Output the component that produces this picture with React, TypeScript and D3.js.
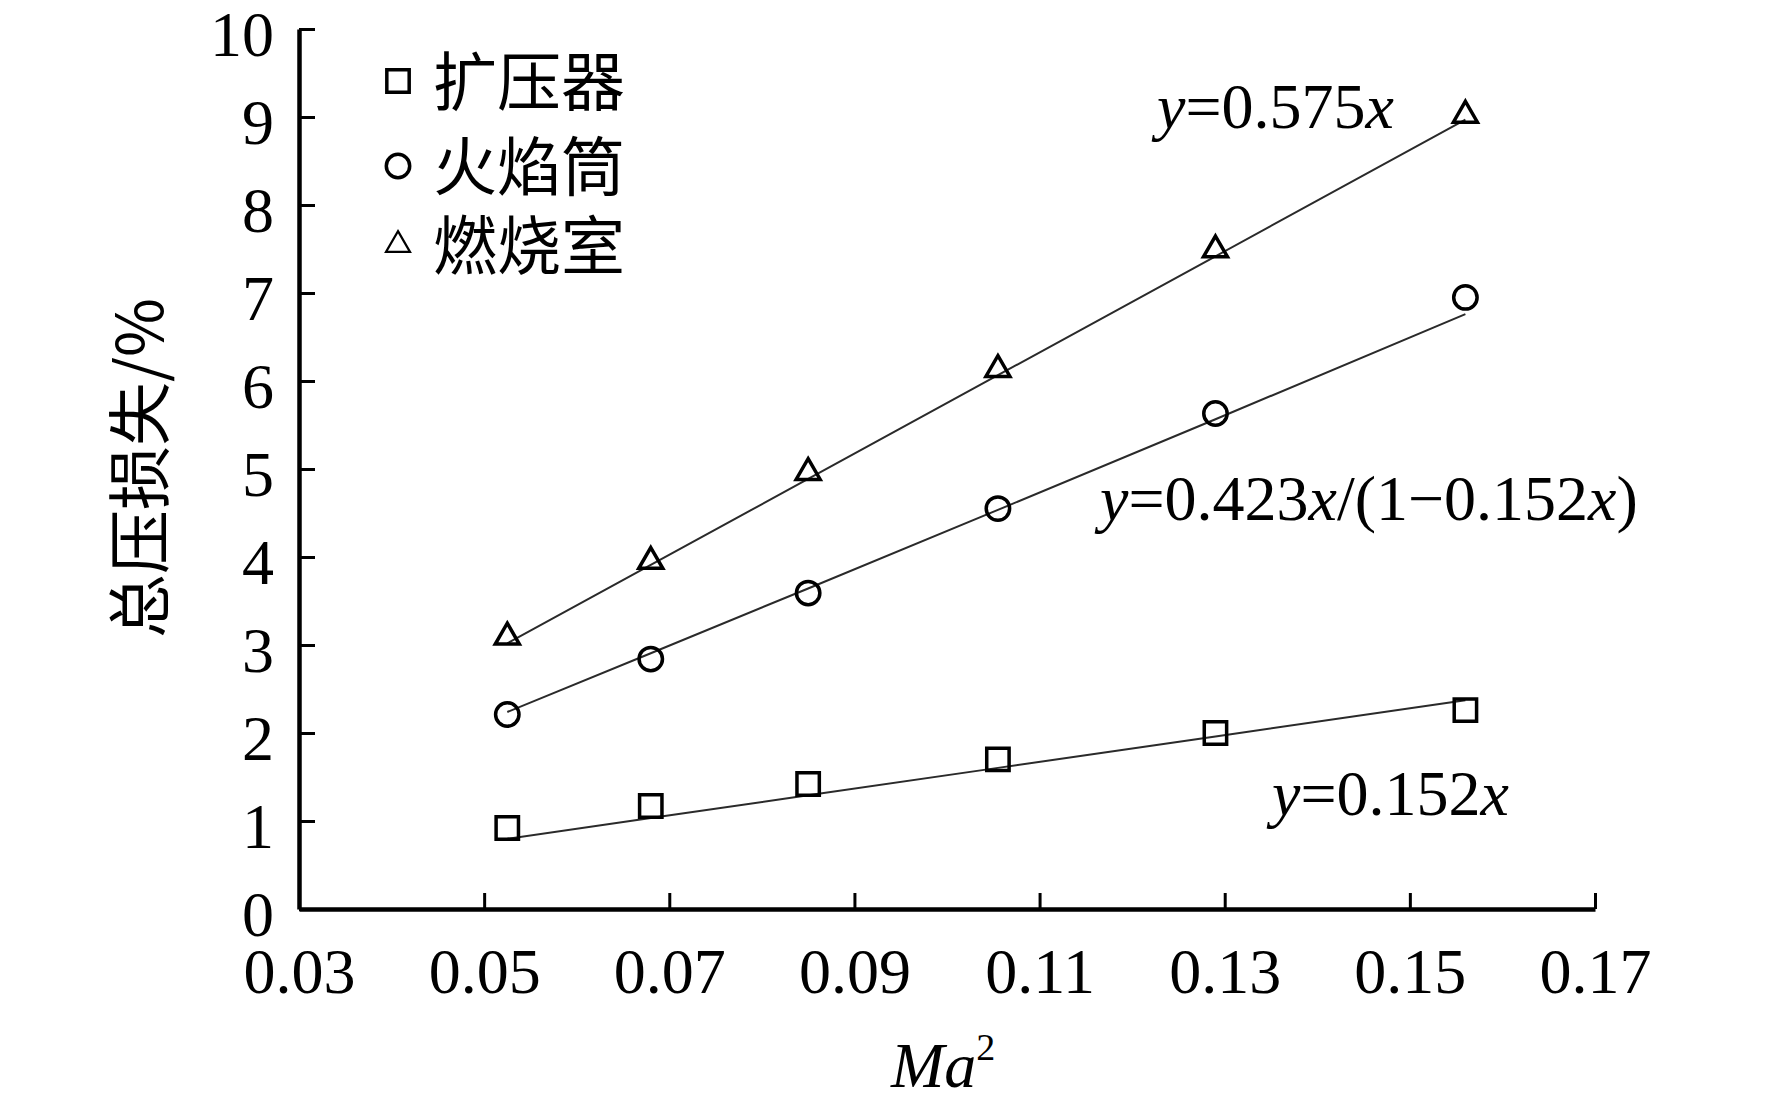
import React, { useEffect, useRef } from "react";
import * as d3 from "d3";

// Ma^2 at the six test points
const ma2 = [0.0525, 0.068, 0.085, 0.1055, 0.129, 0.156];

// total pressure loss, %
const diffuser = [0.92, 1.17, 1.42, 1.70, 2.00, 2.26];
const liner = [2.21, 2.84, 3.59, 4.55, 5.63, 6.95];
const combustor = [3.09, 3.95, 4.96, 6.13, 7.49, 9.02];

const seriesNames = ["扩压器", "火焰筒", "燃烧室"];
const xTicks = [0.03, 0.05, 0.07, 0.09, 0.11, 0.13, 0.15, 0.17];
const yTicks = [0, 1, 2, 3, 4, 5, 6, 7, 8, 9, 10];

// fitted coefficients shown on the chart
const kDiffuser = 0.152;
const kLiner = 0.423;
const kCombustor = 0.575;

const W = 1772;
const H = 1108;
const serif = "'Liberation Serif', 'Times New Roman', serif";
const cjk = "'Noto Sans CJK SC', 'Liberation Serif', serif";

const App: React.FC = () => {
  const ref = useRef<SVGSVGElement>(null);

  useEffect(() => {
    const svg = d3.select(ref.current);
    svg.selectAll("*").remove();

    const x = d3.scaleLinear().domain([0.03, 0.17]).range([299, 1595]);
    const y = d3.scaleLinear().domain([0, 10]).range([909, 29]);

    // axes
    const xAxis = d3.axisBottom(x).tickValues(xTicks).tickSize(-16).tickSizeOuter(0)
      .tickFormat((d) => d3.format(".2f")(d as number));
    const gx = svg.append("g").attr("transform", `translate(0, ${y(0)})`).call(xAxis);
    gx.select(".domain").attr("stroke-width", 4.5);
    gx.selectAll(".tick line").attr("stroke-width", 3);
    gx.selectAll(".tick text")
      .attr("y", 84).attr("dy", 0)
      .attr("font-family", serif).attr("font-size", 64).attr("fill", "#000");

    const yAxis = d3.axisLeft(y).tickValues(yTicks).tickSize(-16).tickSizeOuter(0)
      .tickFormat((d) => String(d));
    const gy = svg.append("g").attr("transform", `translate(${x(0.03)}, 0)`).call(yAxis);
    gy.select(".domain").attr("stroke-width", 4.5);
    gy.selectAll(".tick line").attr("stroke-width", 3);
    gy.selectAll(".tick text")
      .attr("x", -25).attr("dy", 26)
      .attr("font-family", serif).attr("font-size", 64).attr("fill", "#000");
    svg.selectAll(".domain, .tick line").attr("stroke", "#000");
    svg.selectAll(".tick text").attr("text-anchor", function () {
      return (this as SVGTextElement).parentElement?.parentElement === gy.node() ? "end" : "middle";
    });

    // fit lines
    const fits: ((m: number) => number)[] = [
      (m) => 100 * kDiffuser * m,
      (m) => (100 * kLiner * m) / (1 - kDiffuser * m),
      (m) => 100 * kCombustor * m,
    ];
    const line = d3.line<number>().x((m) => x(m)).y((m, i) => 0);
    fits.forEach((f) => {
      const l = d3.line<number>().x((m) => x(m)).y((m) => y(f(m)));
      svg.append("path")
        .attr("d", l(ma2) as string)
        .attr("fill", "none")
        .attr("stroke", "#2a2a2a")
        .attr("stroke-width", 2);
    });
    void line;

    // markers
    const symbols = [
      d3.symbol().type(d3.symbolSquare).size(500),
      d3.symbol().type(d3.symbolCircle).size(430),
      d3.symbol().type(d3.symbolTriangle).size(250),
    ];
    [diffuser, liner, combustor].forEach((vals, si) => {
      svg.append("g").selectAll("path")
        .data(vals)
        .enter()
        .append("path")
        .attr("d", symbols[si]() as string)
        .attr("transform", (v, i) => `translate(${x(ma2[i])}, ${y(v)})`)
        .attr("fill", "none")
        .attr("stroke", "#000")
        .attr("stroke-width", 3.5);
    });

    // legend
    const legendY = [81, 166, 245];
    const lg = svg.append("g");
    seriesNames.forEach((name, i) => {
      lg.append("path")
        .attr("d", symbols[i]() as string)
        .attr("transform", `translate(398, ${legendY[i]})`)
        .attr("fill", "none")
        .attr("stroke", "#000")
        .attr("stroke-width", i === 2 ? 2.2 : 3.5);
      lg.append("text")
        .attr("x", 433)
        .attr("y", legendY[i] + 24)
        .attr("font-family", cjk)
        .attr("font-size", 64)
        .text(name);
    });

    // equation labels
    const eq = (px: number, py: number, parts: [string, boolean][]) => {
      const t = svg.append("text")
        .attr("x", px).attr("y", py)
        .attr("font-family", serif).attr("font-size", 64);
      parts.forEach(([s, it]) => {
        t.append("tspan").attr("font-style", it ? "italic" : "normal").text(s);
      });
    };
    eq(1157, 128, [["y", true], ["=0.575", false], ["x", true]]);
    eq(1100, 520, [["y", true], ["=0.423", false], ["x", true], ["/(1\u22120.152", false], ["x", true], [")", false]]);
    eq(1272, 815, [["y", true], ["=0.152", false], ["x", true]]);

    // axis titles
    const xt = svg.append("text")
      .attr("x", 891).attr("y", 1087)
      .attr("font-family", serif).attr("font-size", 64);
    xt.append("tspan").attr("font-style", "italic").text("Ma");
    xt.append("tspan").attr("font-size", 38).attr("dy", -27).text("2");

    svg.append("text")
      .attr("transform", `translate(163, 468) rotate(-90)`)
      .attr("text-anchor", "middle")
      .attr("font-family", cjk)
      .attr("font-size", 64)
      .text("总压损失/%");
  }, []);

  return (
    <div style={{ position: "absolute", left: 0, top: 0 }}>
      <svg ref={ref} width={W} height={H} style={{ display: "block", background: "#fff" }} />
    </div>
  );
};

export default App;
